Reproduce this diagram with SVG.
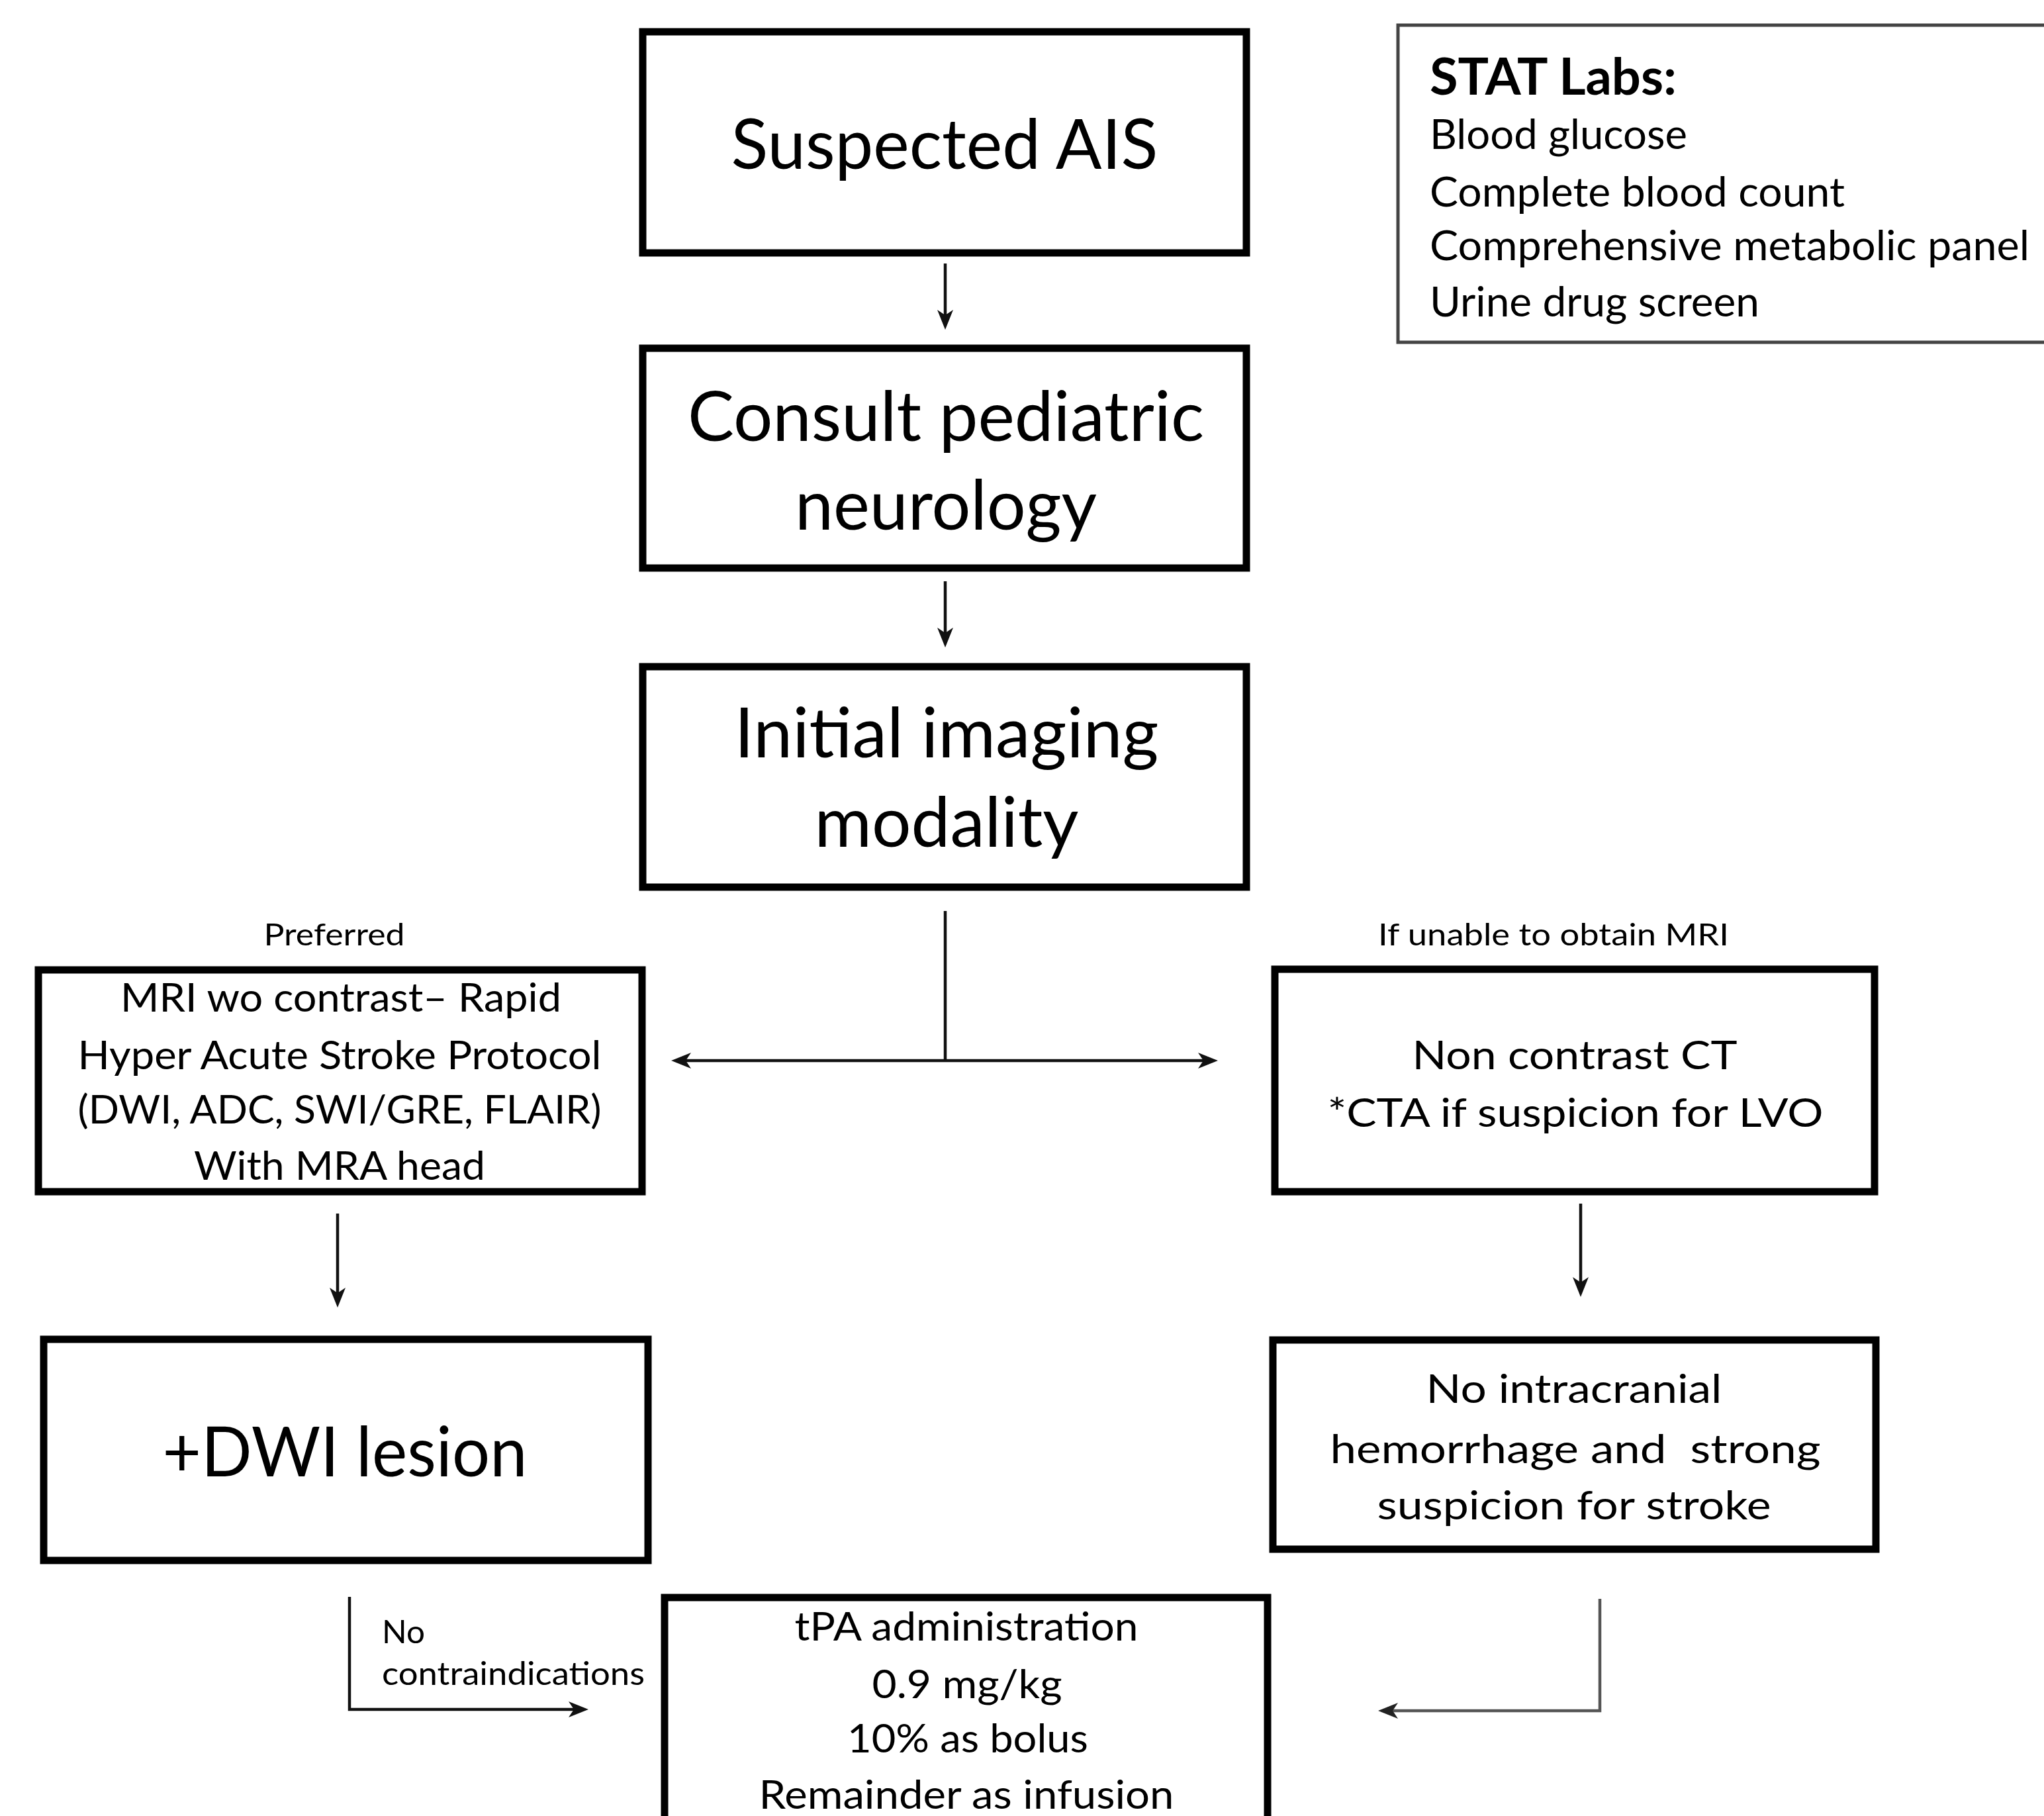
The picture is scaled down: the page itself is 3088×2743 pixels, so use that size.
<svg xmlns="http://www.w3.org/2000/svg" width="3088" height="2743" viewBox="0 0 3088 2743">
<style>
text{font-family:Lato,"Liberation Sans",sans-serif;fill:#000}
.box{fill:#fff;stroke:#000;stroke-width:11}
.labs{fill:#fff;stroke:#444;stroke-width:5}
.big{font-size:104px;text-anchor:middle}
.mid{font-size:60px;text-anchor:middle}
.lst{font-size:62px}
.hdr{font-size:76px;font-weight:bold}
.sm{font-size:46px;text-anchor:middle}
.sm2{font-size:48px}
.ln{fill:none;stroke:#111;stroke-width:4.5}
.lg{fill:none;stroke:#555;stroke-width:4.5}
</style>
<defs>
<marker id="ah" viewBox="0 0 30 24" refX="18" refY="12" markerWidth="30" markerHeight="24" markerUnits="userSpaceOnUse" orient="auto-start-reverse">
<path d="M0,0 L30,12 L0,24 L8,12 Z" fill="#111"/>
</marker>
<marker id="ahg" viewBox="0 0 30 24" refX="18" refY="12" markerWidth="30" markerHeight="24" markerUnits="userSpaceOnUse" orient="auto-start-reverse">
<path d="M0,0 L30,12 L0,24 L8,12 Z" fill="#222"/>
</marker>
</defs>
<rect width="3088" height="2743" fill="#fff"/>

<g id="n-suspected">
<rect class="box" x="971" y="48" width="912" height="334"/>
<text class="big" x="1427" y="255" textLength="645" lengthAdjust="spacingAndGlyphs">Suspected AIS</text>
</g>
<g id="n-consult">
<rect class="box" x="971" y="526" width="912" height="332"/>
<text class="big" x="1429" y="666" textLength="780" lengthAdjust="spacingAndGlyphs">Consult pediatric</text>
<text class="big" x="1429" y="800" textLength="456" lengthAdjust="spacingAndGlyphs">neurology</text>
</g>
<g id="n-imaging">
<rect class="box" x="971" y="1007" width="912" height="333"/>
<text class="big" x="1430" y="1144" textLength="641" lengthAdjust="spacingAndGlyphs">Initial imaging</text>
<text class="big" x="1430" y="1279" textLength="399" lengthAdjust="spacingAndGlyphs">modality</text>
</g>
<g id="n-labs">
<rect class="labs" x="2112" y="38" width="1010" height="479"/>
<text class="hdr" x="2160" y="143" textLength="373" lengthAdjust="spacingAndGlyphs">STAT Labs:</text>
<text class="lst" x="2160" y="225" textLength="389" lengthAdjust="spacingAndGlyphs">Blood glucose</text>
<text class="lst" x="2160" y="312" textLength="627" lengthAdjust="spacingAndGlyphs">Complete blood count</text>
<text class="lst" x="2160" y="393" textLength="906" lengthAdjust="spacingAndGlyphs">Comprehensive metabolic panel</text>
<text class="lst" x="2160" y="478" textLength="498" lengthAdjust="spacingAndGlyphs">Urine drug screen</text>
</g>
<g id="n-mri">
<rect class="box" x="58" y="1465" width="912" height="335"/>
<text class="mid" x="515" y="1528" textLength="666" lengthAdjust="spacingAndGlyphs">MRI wo contrast– Rapid</text>
<text class="mid" x="513" y="1615" textLength="791" lengthAdjust="spacingAndGlyphs">Hyper Acute Stroke Protocol</text>
<text class="mid" x="513" y="1697" textLength="791" lengthAdjust="spacingAndGlyphs">(DWI, ADC, SWI/GRE, FLAIR)</text>
<text class="mid" x="513" y="1782" textLength="440" lengthAdjust="spacingAndGlyphs">With MRA head</text>
</g>
<g id="n-ct">
<rect class="box" x="1926" y="1464" width="906" height="336"/>
<text class="mid" x="2379" y="1615" textLength="491" lengthAdjust="spacingAndGlyphs">Non contrast CT</text>
<text class="mid" x="2380" y="1702" textLength="749" lengthAdjust="spacingAndGlyphs">*CTA if suspicion for LVO</text>
</g>
<g id="n-dwi">
<rect class="box" x="66" y="2023" width="913" height="334"/>
<text class="big" x="521" y="2230" textLength="551" lengthAdjust="spacingAndGlyphs">+DWI lesion</text>
</g>
<g id="n-noich">
<rect class="box" x="1923" y="2024" width="911" height="316"/>
<text class="mid" x="2378" y="2119" textLength="447" lengthAdjust="spacingAndGlyphs">No intracranial</text>
<text class="mid" x="2380" y="2210" textLength="741" lengthAdjust="spacingAndGlyphs" xml:space="preserve">hemorrhage and  strong</text>
<text class="mid" x="2378" y="2295" textLength="595" lengthAdjust="spacingAndGlyphs">suspicion for stroke</text>
</g>
<g id="n-tpa">
<rect class="box" x="1004" y="2413" width="911" height="360"/>
<text class="mid" x="1460" y="2478" textLength="519" lengthAdjust="spacingAndGlyphs">tPA administration</text>
<text class="mid" x="1461" y="2565" textLength="287" lengthAdjust="spacingAndGlyphs">0.9 mg/kg</text>
<text class="mid" x="1462" y="2647" textLength="364" lengthAdjust="spacingAndGlyphs">10% as bolus</text>
<text class="mid" x="1460" y="2732" textLength="627" lengthAdjust="spacingAndGlyphs">Remainder as infusion</text>
</g>

<g id="connectors">
<line class="ln" x1="1428" y1="398" x2="1428" y2="486" marker-end="url(#ah)"/>
<line class="ln" x1="1428" y1="878" x2="1428" y2="966" marker-end="url(#ah)"/>
<line class="ln" x1="1428" y1="1376" x2="1428" y2="1602"/>
<line class="ln" x1="1026" y1="1602" x2="1828" y2="1602" marker-start="url(#ah)" marker-end="url(#ah)"/>
<line class="ln" x1="510" y1="1833" x2="510" y2="1963" marker-end="url(#ah)"/>
<line class="ln" x1="2388" y1="1818" x2="2388" y2="1947" marker-end="url(#ah)"/>
<polyline class="ln" points="528,2412 528,2582 877,2582" marker-end="url(#ah)"/>
<polyline class="lg" points="2417,2415 2417,2584 2094,2584" marker-end="url(#ahg)"/>
<text class="sm" x="505" y="1428" textLength="213" lengthAdjust="spacingAndGlyphs">Preferred</text>
<text class="sm" x="2347" y="1428" textLength="530" lengthAdjust="spacingAndGlyphs">If unable to obtain MRI</text>
<text class="sm2" x="577" y="2482" textLength="65" lengthAdjust="spacingAndGlyphs">No</text>
<text class="sm2" x="577" y="2545" textLength="397" lengthAdjust="spacingAndGlyphs">contraindications</text>
</g>
</svg>
